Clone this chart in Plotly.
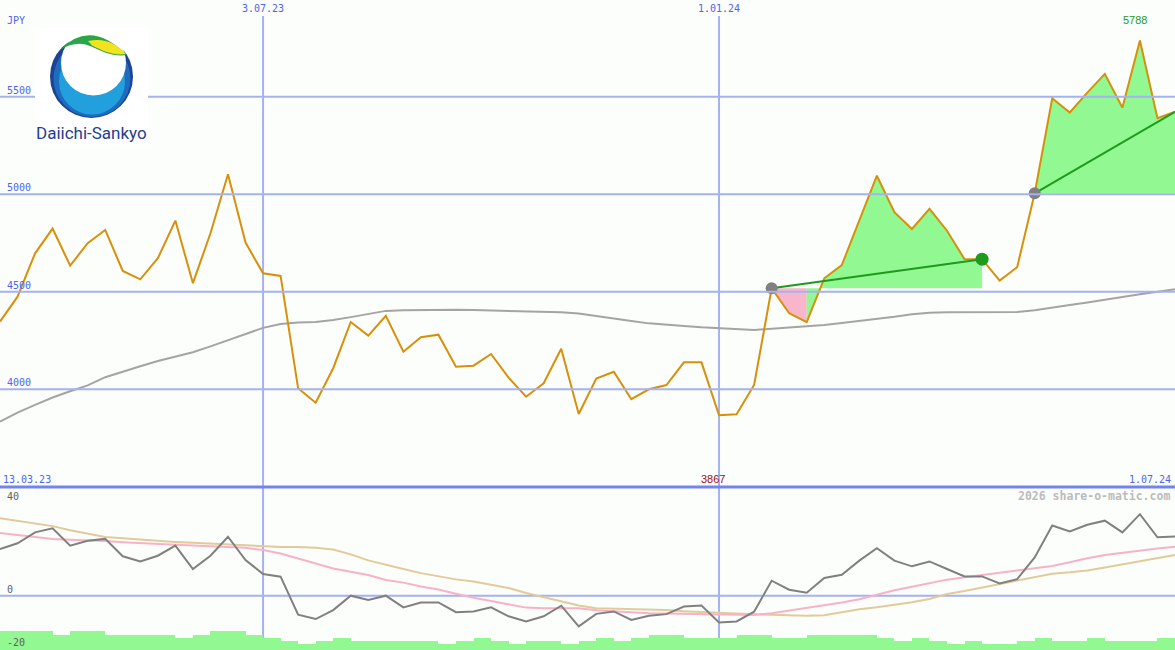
import plotly.graph_objects as go
import pandas as pd

W, H = 1175, 650

# ---------------- data ----------------
dates = pd.date_range("2023-03-20", periods=68, freq="7D").strftime("%Y-%m-%d").tolist()

price = [4347, 4475, 4697, 4824, 4634, 4749, 4817, 4607, 4564, 4672,
         4865, 4544, 4800, 5103, 4752, 4595, 4581, 4005, 3931, 4108,
         4345, 4275, 4377, 4193, 4267, 4280, 4116, 4121, 4181, 4060,
         3962, 4031, 4208, 3873, 4055, 4090, 3949, 4000, 4022, 4138,
         4138, 3867, 3872, 4022, 4518, 4390, 4344, 4569, 4637, 4870,
         5095, 4908, 4822, 4925, 4813, 4667, 4667, 4557, 4626, 5005,
         5492, 5419, 5521, 5617, 5444, 5788, 5390, 5423]

price_ma = [3834, 3880, 3920, 3958, 3990, 4020, 4062, 4092, 4118, 4145,
            4168, 4190, 4220, 4253, 4285, 4315, 4335, 4342, 4345, 4355,
            4370, 4385, 4402, 4405, 4406, 4408, 4408, 4406, 4404, 4402,
            4400, 4398, 4395, 4388, 4375, 4360, 4350, 4338, 4330, 4325,
            4318, 4313, 4306, 4304, 4310, 4316, 4322, 4330, 4340, 4350,
            4362, 4372, 4385, 4393, 4395, 4396, 4397, 4395, 4396, 4405,
            4420, 4432, 4445, 4460, 4472, 4487, 4500, 4513]

osc = [17.2, 19.3, 23.3, 24.8, 18.4, 20.2, 20.9, 14.5, 12.6, 14.7,
       18.4, 9.8, 14.7, 21.7, 13.1, 8.0, 7.0, -7.0, -8.6, -5.3,
       0.0, -1.6, 0.0, -4.3, -2.5, -2.5, -6.1, -5.8, -4.3, -7.6,
       -9.5, -7.6, -3.7, -11.3, -6.7, -5.8, -8.9, -7.4, -6.8, -4.0,
       -3.6, -9.9, -9.5, -5.9, 5.5, 2.2, 1.1, 6.5, 7.7, 12.9,
       17.5, 12.9, 10.8, 12.6, 9.8, 7.1, 7.1, 4.5, 6.1, 14.1,
       25.8, 23.6, 26.1, 27.6, 23.3, 30.0, 21.5, 21.8]

osc_pink = [23.1, 22.3, 21.6, 20.9, 20.6, 20.4, 20.1, 19.7, 19.3, 18.9,
            18.7, 18.5, 18.2, 17.9, 17.6, 16.8, 15.5, 13.7, 11.8, 10.0,
            8.8, 7.6, 5.8, 4.8, 3.4, 2.3, 0.7, -0.8, -2.0, -3.2,
            -4.4, -4.6, -4.6, -4.6, -5.4, -5.8, -6.2, -6.5, -6.6, -6.7,
            -6.8, -6.9, -7.0, -7.1, -6.5, -5.5, -4.7, -3.6, -2.5, -1.3,
            0.4, 2.0, 3.3, 4.5, 5.9, 6.8, 7.7, 8.6, 9.3, 10.1,
            10.9, 12.3, 13.8, 15.0, 15.8, 16.7, 17.4, 18.0]

osc_tan = [28.5, 27.5, 26.6, 25.6, 24.1, 22.8, 21.6, 21.1, 20.6, 20.1,
           19.8, 19.5, 19.2, 18.9, 18.6, 18.3, 17.9, 17.9, 17.6, 17.0,
           15.2, 13.0, 11.3, 9.8, 8.3, 7.2, 6.0, 5.2, 4.0, 2.8,
           1.0, -0.6, -2.0, -3.6, -4.6, -4.8, -4.9, -5.0, -5.3, -5.7,
           -6.1, -6.3, -6.6, -6.8, -7.0, -7.3, -7.4, -7.2, -6.0, -5.0,
           -4.3, -3.4, -2.4, -1.2, 0.6, 1.7, 3.0, 4.3, 5.6, 6.9,
           8.1, 8.6, 9.3, 10.4, 11.5, 12.8, 13.8, 15.0]

# weekly volume bars (height above the -20 floor of the lower panel)
volume = [7.0, 7.0, 7.0, 5.5, 7.0, 7.0, 5.5, 5.5, 5.5, 5.5,
          4.4, 5.5, 7.0, 7.0, 5.5, 4.4, 3.3, 2.2, 3.3, 4.4,
          3.3, 3.3, 3.3, 3.3, 3.3, 2.2, 3.3, 4.4, 3.3, 2.2,
          3.3, 3.3, 2.2, 3.3, 4.4, 3.3, 4.4, 5.5, 5.5, 4.4,
          4.4, 4.4, 5.5, 5.5, 4.4, 4.4, 5.5, 5.5, 5.5, 5.5,
          4.4, 3.3, 4.4, 3.3, 2.2, 3.3, 2.2, 2.2, 3.3, 4.4,
          3.3, 3.3, 4.4, 3.3, 3.3, 3.3, 4.4]

price_ticks = [4000, 4500, 5000, 5500]
price_tick_text = ["4000", "4500", "5000", "5500"]
osc_ticks = [40, 0, -20]
date_ticks = ["2023-07-03", "2024-01-01"]
date_tick_text = ["3.07.23", "1.01.24"]
first_label, last_label = "13.03.23", "1.07.24"

# signal segments: (start index, index where colour turns green, end index)
signal_a = [44, 46, 56]
signal_b = [59, 59, 67]

# ---------------- colours ----------------
BG = "#FCFEFC"
GRID = "#A4B2F0"
DIVIDER = "#7484EE"
BLUE_TXT = "#5064F0"
PRICE_C = "#D8900A"
MA_C = "#A4A4A4"
GREEN_FILL = "#92F892"
PINK_FILL = "#F8B6CA"
TREND_C = "#1E9A1E"

PANEL_SPLIT = 1 - 487 / H   # paper y of the divider between panels

fig = go.Figure()

# ---- signal fills (top panel) ----
def add_fill(i0, i1, base, color):
    xs = dates[i0:i1 + 1]
    fig.add_trace(go.Scatter(x=xs, y=[base] * len(xs), mode="lines",
                             line=dict(width=0), hoverinfo="skip",
                             showlegend=False, xaxis="x", yaxis="y"))
    fig.add_trace(go.Scatter(x=xs, y=price[i0:i1 + 1], mode="lines",
                             line=dict(width=0), fill="tonexty", fillcolor=color,
                             hoverinfo="skip", showlegend=False, xaxis="x", yaxis="y"))

for seg in (signal_a, signal_b):
    s, m, e = seg
    base = price[s]
    if m > s:
        add_fill(s, m, base, PINK_FILL)
    add_fill(m, e, base, GREEN_FILL)

# moving average
fig.add_trace(go.Scatter(x=dates, y=price_ma, mode="lines",
                         line=dict(color=MA_C, width=2), showlegend=False,
                         xaxis="x", yaxis="y"))
# price
fig.add_trace(go.Scatter(x=dates, y=price, mode="lines",
                         line=dict(color=PRICE_C, width=2), showlegend=False,
                         xaxis="x", yaxis="y"))
# trend lines + markers
for seg in (signal_a, signal_b):
    s, m, e = seg
    fig.add_trace(go.Scatter(x=[dates[s], dates[e]], y=[price[s], price[e]], mode="lines",
                             line=dict(color=TREND_C, width=2), showlegend=False,
                             xaxis="x", yaxis="y"))
    fig.add_trace(go.Scatter(x=[dates[s]], y=[price[s]], mode="markers",
                             marker=dict(color="#808080", size=12), showlegend=False,
                             xaxis="x", yaxis="y"))
s, m, e = signal_a
fig.add_trace(go.Scatter(x=[dates[e]], y=[price[e]], mode="markers",
                         marker=dict(color=TREND_C, size=13), showlegend=False,
                         xaxis="x", yaxis="y"))

# ---- lower panel ----
fig.add_trace(go.Bar(x=dates[:len(volume)], y=volume, base=-20,
                     width=[7 * 86400000] * len(volume), offset=0,
                     marker=dict(color=GREEN_FILL, line=dict(width=0)),
                     showlegend=False, xaxis="x2", yaxis="y2"))
fig.add_trace(go.Scatter(x=dates, y=osc_tan, mode="lines",
                         line=dict(color="#E2CA9A", width=2), showlegend=False,
                         xaxis="x2", yaxis="y2"))
fig.add_trace(go.Scatter(x=dates, y=osc_pink, mode="lines",
                         line=dict(color="#F8B2C8", width=2), showlegend=False,
                         xaxis="x2", yaxis="y2"))
fig.add_trace(go.Scatter(x=dates, y=osc, mode="lines",
                         line=dict(color="#808080", width=2), showlegend=False,
                         xaxis="x2", yaxis="y2"))

# ---------------- shapes ----------------
shapes = []
for d in date_ticks:
    shapes.append(dict(type="line", xref="x", x0=d, x1=d, yref="paper",
                       y0=0, y1=1 - 16 / H, line=dict(color=GRID, width=2), layer="below"))
shapes.append(dict(type="line", xref="paper", x0=0, x1=1, yref="y2", y0=0, y1=0,
                   line=dict(color=GRID, width=2), layer="below"))
for p in price_ticks:
    shapes.append(dict(type="line", xref="paper", x0=0, x1=1, yref="y", y0=p, y1=p,
                       line=dict(color=GRID, width=2), layer="above"))
shapes.append(dict(type="line", xref="paper", x0=0, x1=1, yref="paper",
                   y0=PANEL_SPLIT, y1=PANEL_SPLIT, line=dict(color=DIVIDER, width=3),
                   layer="above"))

# ---- logo (decorative) ----
def px(x, y):
    return x / W, 1 - y / H

def rect(x0, y0, x1, y1, color):
    a, b = px(x0, y1)
    c, d = px(x1, y0)
    return dict(type="rect", xref="paper", yref="paper", x0=a, y0=b, x1=c, y1=d,
                fillcolor=color, line=dict(width=0), layer="above")

def circ(cx, cy, r, color):
    a, b = px(cx - r, cy + r)
    c, d = px(cx + r, cy - r)
    return dict(type="circle", xref="paper", yref="paper", x0=a, y0=b, x1=c, y1=d,
                fillcolor=color, line=dict(width=0), layer="above")

def path(cmds, color):
    out = []
    for cmd, pts in cmds:
        out.append(cmd + " ".join("%.5f,%.5f" % px(x, y) for x, y in pts))
    return dict(type="path", xref="paper", yref="paper", path=" ".join(out) + " Z",
                fillcolor=color, line=dict(width=0), layer="above")

shapes.append(rect(35, 28, 148, 146, "#FFFFFF"))
shapes.append(circ(91.5, 76.5, 41.5, "#1C4394"))
shapes.append(circ(92, 78.5, 38.5, "#1F6CBE"))
shapes.append(circ(92, 81.5, 33, "#22A0DE"))
shapes.append(circ(93.5, 63, 32.5, "#FFFFFF"))
shapes.append(path([("M", [(60, 50)]), ("Q", [(90, 18), (127, 55)]),
                    ("C", [(114, 57), (103, 52), (90, 46)]),
                    ("Q", [(76, 40), (60, 50)])], "#2AA548"))
shapes.append(path([("M", [(88, 41)]), ("Q", [(110, 36), (126, 54)]),
                    ("C", [(114, 56), (103, 51), (92, 45.5)]),
                    ("Q", [(90, 43), (88, 41)])], "#F1E41E"))

# ---------------- annotations ----------------
MONO = "DejaVu Sans Mono"
ann = []

def txt(text, x, y, color, size=10, family=MONO, xanchor="left", yanchor="middle",
        xref="paper", yref="paper", **kw):
    ann.append(dict(text=text, x=x, y=y, xref=xref, yref=yref, xanchor=xanchor,
                    yanchor=yanchor, showarrow=False,
                    font=dict(family=family, size=size, color=color), **kw))

txt("JPY", 5 / W, 1 - 21 / H, BLUE_TXT)
for p, t in zip(price_ticks, price_tick_text):
    txt(t, 5 / W, p, BLUE_TXT, yref="y", yanchor="bottom", yshift=-1)
for d, t in zip(date_ticks, date_tick_text):
    txt(t, d, 1 - 9 / H, BLUE_TXT, xref="x", xanchor="center")
txt(first_label, 1 / W, 1 - 479 / H, BLUE_TXT)
txt(last_label, 1173 / W, 1 - 479 / H, BLUE_TXT, xanchor="right")

i_max = price.index(max(price))
i_min = price.index(min(price))
txt(str(max(price)), dates[i_max], max(price), "#1E9A1E", size=11,
    family="Liberation Sans", xref="x", yref="y", xanchor="center",
    yanchor="bottom", yshift=13, xshift=-5)
txt(str(min(price)), dates[i_min], 1 - 479 / H, "#A01010", size=11,
    family="Liberation Sans", xref="x", xanchor="center", xshift=-6)

txt("2026 share-o-matic.com", 1172 / W, 1 - 496 / H, "#BBBBBB", size=11.5,
    xanchor="right", family=MONO + ", monospace")
ann[-1]["font"]["weight"] = "bold"

label_y = {40: 496, 0: 589, -20: 642}
for v in osc_ticks:
    txt(str(v), 5 / W, 1 - label_y[v] / H, "#606060")

ann.append(dict(text="Daiichi-Sankyo", x=91 / W, y=1 - 133 / H, xref="paper",
                yref="paper", xanchor="center", yanchor="middle", showarrow=False,
                font=dict(family="Roboto", size=17, color="#1F3E8E")))

# ---------------- layout ----------------
axis_off = dict(showgrid=False, zeroline=False, showticklabels=False, showline=False,
                ticks="")
fig.update_layout(
    width=W, height=H, autosize=False,
    margin=dict(l=0, r=0, t=0, b=0),
    paper_bgcolor=BG, plot_bgcolor=BG,
    showlegend=False, bargap=0,
    xaxis=dict(domain=[0, 1], range=[dates[0], dates[-1]], anchor="y", type="date",
               **axis_off),
    xaxis2=dict(domain=[0, 1], range=[dates[0], dates[-1]], anchor="y2", type="date",
                matches="x", **axis_off),
    yaxis=dict(domain=[PANEL_SPLIT, 1], range=[3499, 5996], anchor="x", **axis_off),
    yaxis2=dict(domain=[0, PANEL_SPLIT], range=[-20, 40], anchor="x2", **axis_off),
    shapes=shapes,
    annotations=ann,
)

fig.write_html("out.html",
               config={"displayModeBar": False},
               post_script="document.body.style.margin='0px';"
                           "document.body.style.overflow='hidden';")
